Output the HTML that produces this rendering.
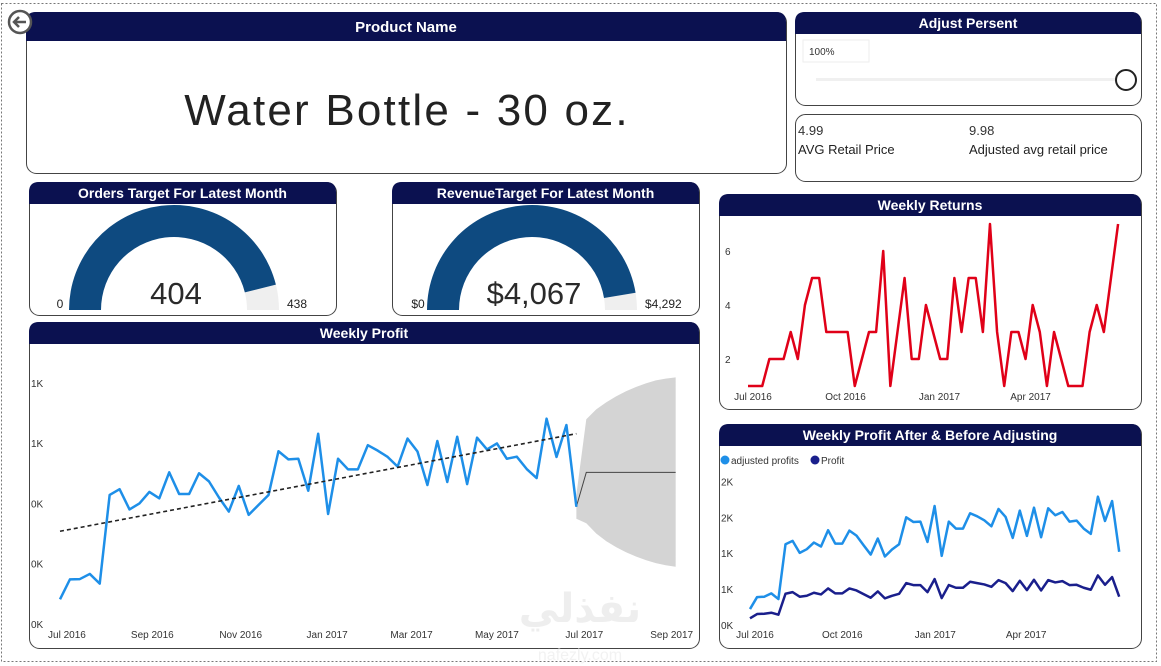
<!DOCTYPE html>
<html><head><meta charset="utf-8">
<style>
html,body{margin:0;padding:0;background:#fff;}
svg{display:block;font-family:"Liberation Sans",sans-serif;}
.hd{font-family:"Liberation Sans Narrow","Liberation Sans",sans-serif;font-weight:bold;fill:#fff;}
.ax{font-size:10px;fill:#333;}
</style></head>
<body>
<svg id="s" width="1161" height="666" viewBox="0 0 1161 666">
<rect x="1.5" y="3.5" width="1155" height="658" fill="none" stroke="#777" stroke-dasharray="2,2"/>
<g id="cards"></g>
<g>
<circle cx="20" cy="22" r="11" fill="#fff" stroke="#555" stroke-width="2.5"/>
<path d="M26 22 H14 M19 17 L14 22 L19 27" stroke="#555" stroke-width="2.5" fill="none"/>
</g>
<text x="407" y="125" text-anchor="middle" font-size="44" fill="#222" letter-spacing="2.2">Water Bottle - 30 oz.</text>
<g>
<rect x="803" y="40" width="66" height="22" fill="#fff" stroke="#eee"/>
<text x="809" y="55" font-size="10" fill="#333">100%</text>
<rect x="816" y="78" width="300" height="3" fill="#f0f0f0"/>
<circle cx="1126" cy="80" r="10" fill="#fff" stroke="#222" stroke-width="2"/>
</g>
<g>
<text x="798" y="135" font-size="13" fill="#333">4.99</text>
<text x="798" y="154" font-size="13" fill="#222">AVG Retail Price</text>
<text x="969" y="135" font-size="13" fill="#333">9.98</text>
<text x="969" y="154" font-size="13" fill="#222">Adjusted avg retail price</text>
</g>
<g id="gauges"></g>
<g id="profit"></g>
<g id="returns"></g>
<g id="adj"></g>
<text x="580" y="622" font-family="'DejaVu Sans',sans-serif" font-size="40" font-weight="bold" fill="#eeeeee" text-anchor="middle">نفذلي</text>
<text x="580" y="660" font-size="16" fill="#f2f2f2" text-anchor="middle">nafezly.com</text>
</svg>
<script>
// ---------- data ----------
const profitValues=[82,148,149,166,134,428,447,380,400,438,417,503,431,431,500,473,420,373,458,362,395,428,573,546,548,442,631,365,548,513,513,593,575,554,522,615,572,461,607,471,621,464,618,579,599,548,555,514,484,681,554,660,389];
const forecastValue=503;
const forecastUpper=[679,712,735,755,772,786,798,808,814,818];
const forecastLower=[334,300,275,255,238,224,212,202,195,190];
const profitTicks=[0,200,400,600,800];
const profitTickLabels=["0K","0K","0K","1K","1K"];
const profitMonthLabels=["Jul 2016","Sep 2016","Nov 2016","Jan 2017","Mar 2017","May 2017","Jul 2017","Sep 2017"];
const profitMonthWeek=[0.7,9.3,18.2,26.9,35.4,44.0,52.8,61.6];

const returnsValues=[1,1,1,2,2,2,3,2,4,5,5,3,3,3,3,1,2,3,3,6,1,3,5,2,2,4,3,2,2,5,3,5,5,3,7,3,1,3,3,2,4,3,1,3,2,1,1,1,3,4,3,5,7];
const returnsTicks=[2,4,6];
const returnsMonthLabels=["Jul 2016","Oct 2016","Jan 2017","Apr 2017"];
const returnsMonthWeek=[0.7,13.7,26.9,39.7];

const adjustedProfits=[222,389,394,440,361,1125,1171,1005,1056,1148,1093,1320,1134,1134,1315,1245,1111,981,1204,954,1051,1125,1500,1435,1440,1157,1657,963,1440,1343,1343,1556,1514,1458,1375,1616,1505,1213,1593,1241,1634,1222,1625,1528,1574,1440,1454,1343,1269,1787,1449,1727,1019];
const baseProfits=[93,153,157,171,143,435,458,394,407,449,426,509,440,440,509,481,430,380,468,371,407,435,583,556,556,458,639,375,556,519,519,602,583,565,532,625,583,472,616,486,630,481,625,593,611,556,560,519,491,690,560,667,394];
const adjTicks=[0,500,1000,1500,2000];
const adjTickLabels=["0K","1K","1K","2K","2K"];
const adjMonthLabels=["Jul 2016","Oct 2016","Jan 2017","Apr 2017"];
const adjMonthWeek=[0.7,13.0,26.1,38.9];

const ordersValue=404, ordersTarget=438;
const revenueValue=4067, revenueTarget=4292;

const NS="http://www.w3.org/2000/svg";
function mk(parent,tag,attrs,text){const e=document.createElementNS(NS,tag);for(const k in attrs)e.setAttribute(k,attrs[k]);if(text!==undefined)e.textContent=text;parent.appendChild(e);return e;}

// ---------- cards ----------
const cards=[
 ["product-name-card","Product Name",26,12,760,161,29,15],
 ["adjust-percent-card","Adjust Persent",795,12,346,93,22,14],
 ["price-card",null,795,114,346,67,0,0],
 ["orders-gauge-card","Orders Target For Latest Month",29,182,307,133,22,14],
 ["revenue-gauge-card","RevenueTarget For Latest Month",392,182,307,133,22,14],
 ["weekly-returns-card","Weekly Returns",719,194,422,215,22,14],
 ["weekly-profit-card","Weekly Profit",29,322,670,326,22,14],
 ["adjusted-profit-card","Weekly Profit After & Before Adjusting",719,424,422,224,22,14]
];
const cg=document.getElementById('cards');
cards.forEach(c=>{
 const g=mk(cg,'g',{});
 
 
 const [_,t,x,y,w,h,hh,fs]=c;const r=10;
 mk(g,'rect',{x:x+.5,y:y+.5,width:w,height:h,rx:r,fill:'#fff',stroke:'#444','stroke-width':1});
 if(t){
  const p=mk(g,'path',{d:`M${x} ${y+hh} V${y+r} Q${x} ${y} ${x+r} ${y} H${x+w-r} Q${x+w} ${y} ${x+w} ${y+r} V${y+hh} Z`,fill:'#0b1150'});
  
  
  const tt=mk(g,'text',{x:x+w/2,y:y+hh/2+fs*0.36,'text-anchor':'middle','font-size':fs,class:'hd'},t);
  
  
 }
});

// ---------- gauges ----------
const gg=document.getElementById('gauges');
function gauge(cx,by,val,tgt,vTxt,minTxt,maxTxt,name){
 const g=mk(gg,'g',{});
 
 
 const R=105,r=73;
 function arc(a0,a1,col){
  const p=(a,rad)=>[cx-rad*Math.cos(a),by-rad*Math.sin(a)];
  const [x0,y0]=p(a0,R),[x1,y1]=p(a1,R),[x2,y2]=p(a1,r),[x3,y3]=p(a0,r);
  return mk(g,'path',{d:`M${x0} ${y0} A${R} ${R} 0 0 1 ${x1} ${y1} L${x2} ${y2} A${r} ${r} 0 0 0 ${x3} ${y3} Z`,fill:col});
 }
 const f=Math.PI*val/tgt;
 const bg=arc(f,Math.PI,'#efefef');
 
 
 const fg=arc(0,f,'#0e4a80');
 
 
 const v=mk(g,'text',{x:cx+2,y:by-6,'text-anchor':'middle','font-size':31,fill:'#2a2a2a'},vTxt);
 
 
 const a=mk(g,'text',{x:cx-R-9,y:by-2,'text-anchor':'middle','font-size':12,fill:'#222'},minTxt);
 
 
 const b=mk(g,'text',{x:cx+R+8,y:by-2,'text-anchor':'start','font-size':12,fill:'#222'},maxTxt);
 
 
}
gauge(174,310,ordersValue,ordersTarget,String(ordersValue),"0",String(ordersTarget),'orders-gauge');
gauge(532,310,revenueValue,revenueTarget,"$"+revenueValue.toLocaleString('en-US'),"$0","$"+revenueTarget.toLocaleString('en-US'),'revenue-gauge');

// ---------- weekly profit ----------
(function(){
 const g=document.getElementById('profit');
 const X=i=>60+i*9.93, Y=v=>624-v*60.3/200;
 profitTicks.forEach((t,k)=>{
  const e=mk(g,'text',{x:31,y:Y(t)+4,class:'ax'},profitTickLabels[k]);
  
  
 });
 profitMonthLabels.forEach((l,k)=>{
  const e=mk(g,'text',{x:X(profitMonthWeek[k]),y:638,class:'ax','text-anchor':'middle'},l);
  
  
 });
 const n=profitValues.length, last=n-1;
 const lv=profitValues[last];
 const pts=[[X(last),Y(lv+40)]];
 forecastUpper.forEach((v,k)=>pts.push([X(last+1+k),Y(v)]));
 for(let k=forecastLower.length-1;k>=0;k--) pts.push([X(last+1+k),Y(forecastLower[k])]);
 pts.push([X(last),Y(lv-40)]);
 const band=mk(g,'path',{d:'M'+pts.map(p=>p.join(' ')).join(' L')+' Z',fill:'#d4d4d4'});
 
 
 const fl=mk(g,'path',{d:`M${X(last)} ${Y(lv)} L${X(last+1)} ${Y(forecastValue)} H${X(last+forecastUpper.length)}`,stroke:'#444',fill:'none','stroke-width':1});
 
 
 const ln=mk(g,'path',{d:'M'+profitValues.map((v,i)=>X(i)+' '+Y(v)).join(' L'),stroke:'#1e8fe8',fill:'none','stroke-width':2.5,'stroke-linejoin':'round'});
 
 
 let sx=0,sy=0,sxy=0,sxx=0;profitValues.forEach((v,i)=>{sx+=i;sy+=v;sxy+=i*v;sxx+=i*i;});
 const m=(n*sxy-sx*sy)/(n*sxx-sx*sx), b=(sy-m*sx)/n;
 const tr=mk(g,'line',{x1:X(0),y1:Y(b),x2:X(last),y2:Y(b+m*last),stroke:'#222','stroke-width':1.6,'stroke-dasharray':'4,3'});
 
 
})();

// ---------- weekly returns ----------
(function(){
 const g=document.getElementById('returns');
 const X=i=>748+i*7.117, Y=v=>413-v*27;
 returnsTicks.forEach(t=>{
  const e=mk(g,'text',{x:725,y:Y(t)+4,class:'ax'},String(t));
  
  
 });
 returnsMonthLabels.forEach((l,k)=>{
  const e=mk(g,'text',{x:X(returnsMonthWeek[k]),y:400,class:'ax','text-anchor':'middle'},l);
  
  
 });
 const ln=mk(g,'path',{d:'M'+returnsValues.map((v,i)=>X(i)+' '+Y(v)).join(' L'),stroke:'#e00018',fill:'none','stroke-width':2.5,'stroke-linejoin':'round'});
 
 
})();

// ---------- adjusted profit ----------
(function(){
 const g=document.getElementById('adj');
 const X=i=>750+i*7.1, Y=v=>625-v*35.9/500;
 adjTicks.forEach((t,k)=>{
  const e=mk(g,'text',{x:721,y:Y(t)+4,class:'ax'},adjTickLabels[k]);
  
  
 });
 adjMonthLabels.forEach((l,k)=>{
  const e=mk(g,'text',{x:X(adjMonthWeek[k]),y:638,class:'ax','text-anchor':'middle'},l);
  
  
 });
 const lg=mk(g,'g',{});
 
 
 mk(lg,'circle',{cx:725,cy:460,r:4.5,fill:'#1e8fe8'});
 mk(lg,'text',{x:731,y:464,class:'ax',fill:'#555'},'adjusted profits');
 mk(lg,'circle',{cx:815,cy:460,r:4.5,fill:'#1a1f8c'});
 mk(lg,'text',{x:821,y:464,class:'ax'},'Profit');
 const a=mk(g,'path',{d:'M'+adjustedProfits.map((v,i)=>X(i)+' '+Y(v)).join(' L'),stroke:'#1e8fe8',fill:'none','stroke-width':2.5,'stroke-linejoin':'round'});
 
 
 const p=mk(g,'path',{d:'M'+baseProfits.map((v,i)=>X(i)+' '+Y(v)).join(' L'),stroke:'#1a1f8c',fill:'none','stroke-width':2.5,'stroke-linejoin':'round'});
 
 
})();
</script>
</body></html>
